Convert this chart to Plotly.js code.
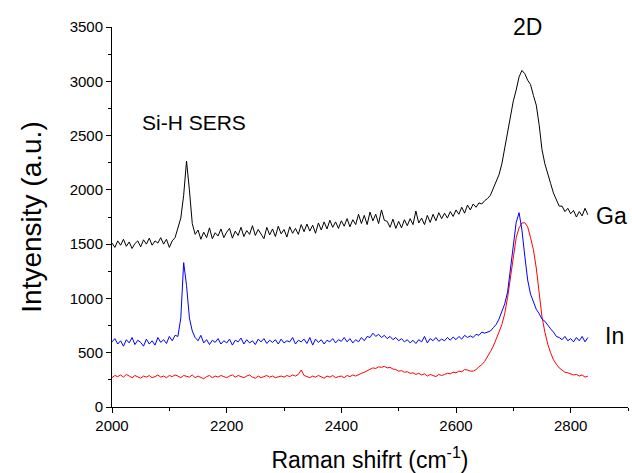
<!DOCTYPE html>
<html>
<head>
<meta charset="utf-8">
<script src="https://cdn.plot.ly/plotly-3.0.1.min.js"></script>
<style>html,body{margin:0;padding:0;background:#fff;}#chart{width:632px;height:473px;}</style>
</head>
<body>
<div id="chart"></div>
<script>
// Raman shift sampling: first point and step (cm^-1)
const X0 = 2000;
const DX = 5;

// Ga spectrum (black), 2000..2830 every 5 cm^-1
const gaIntensity = [
1510,1470,1530,1490,1545,1480,1520,1460,1505,1530,1475,1540,1500,1555,1490,1530,1510,1560,1500,1545,
1470,1530,1560,1650,1740,1950,2265,2000,1690,1590,
1630,1545,1610,1560,1650,1550,1605,1575,1640,1560,
1610,1645,1555,1620,1580,1655,1570,1625,1590,1670,
1580,1635,1595,1550,1655,1585,1640,1570,1665,1595,
1635,1565,1660,1600,1645,1590,1680,1615,1685,1620,
1675,1600,1695,1630,1705,1640,1720,1655,1705,1645,
1715,1665,1735,1660,1725,1680,1775,1690,1765,1680,
1795,1715,1775,1690,1815,1720,1710,1655,1730,1645,
1710,1650,1725,1670,1735,1680,1805,1695,1740,1680,
1765,1700,1775,1715,1790,1735,1785,1740,1800,1755,
1815,1775,1840,1785,1860,1815,
1870,1840,1880,1870,1900,1920,1950,2010,2070,2140,2240,2380,2530,2670,2820,2920,3040,3100,3070,3010,
2970,2870,2780,2600,2370,2240,2140,2060,1970,1910,1850,1850,1800,1830,1780,1810,1750,1800,1760,1830,
1770
];

// In spectrum (blue)
const inIntensity = [
600,630,580,610,560,620,590,640,575,615,595,560,625,580,610,570,640,595,620,585,
650,610,660,650,820,1330,1120,820,700,640,610,660,590,620,575,615,595,630,580,610,
590,625,570,615,600,635,580,620,590,610,575,625,600,630,585,615,595,620,580,625,
590,610,600,640,580,615,600,625,585,640,570,625,595,620,580,615,600,630,590,620,
605,640,600,630,590,620,600,640,610,650,640,680,650,670,640,660,630,650,620,640,
610,630,600,620,590,615,585,620,600,650,590,630,610,640,605,625,610,640,615,645,
620,650,625,660,640,655,640,670,660,690,680,690,700,730,760,810,880,950,1060,1280,
1510,1700,1790,1630,1390,1170,1040,970,900,860,810,790,750,720,690,650,640,620,650,610,
630,600,640,610,650,600,640
];

// Reference spectrum (red)
const refIntensity = [
270,290,280,295,275,300,285,270,290,280,265,285,275,290,270,280,295,275,285,270,
290,280,295,285,270,290,280,275,295,270,285,275,260,280,290,270,285,275,290,280,
270,285,295,275,290,280,270,285,295,275,265,285,270,280,290,275,285,270,280,285,
275,290,280,295,285,300,340,290,280,270,285,275,290,280,265,285,275,290,270,280,
285,270,290,280,295,285,300,310,320,335,345,360,355,370,365,375,360,365,350,345,
330,335,320,325,310,315,300,310,295,305,285,300,290,280,300,290,300,310,305,320,
315,330,325,345,340,330,330,345,370,390,420,460,510,560,620,690,760,860,1010,1210,
1400,1560,1650,1695,1697,1660,1560,1450,1280,1060,830,690,580,500,435,395,360,340,320,315,
305,295,300,285,295,275,285
];

// Annotation labels
const labelText = ["Si-H SERS", "2D", "Ga", "In"];
const labelX = [2143, 2724, 2872, 2877];
const labelY = [2616, 3500, 1759, 654];
const labelSize = [21, 23, 23, 23];

const traces = [
  {y: refIntensity, x0: X0, dx: DX, type: 'scatter', mode: 'lines', line: {color: '#ff0000', width: 1}, name: 'ref'},
  {y: inIntensity, x0: X0, dx: DX, type: 'scatter', mode: 'lines', line: {color: '#0000ff', width: 1}, name: 'In'},
  {y: gaIntensity, x0: X0, dx: DX, type: 'scatter', mode: 'lines', line: {color: '#000000', width: 1}, name: 'Ga'}
];

const annotations = labelText.map((t, i) => ({
  text: t, x: labelX[i], y: labelY[i], xref: 'x', yref: 'y', showarrow: false,
  font: {family: 'Liberation Sans, Arial, sans-serif', size: labelSize[i], color: '#000'},
  xanchor: 'center', yanchor: 'middle'
}));

const layout = {
  width: 632, height: 473,
  margin: {l: 112, r: 4, t: 27, b: 66},
  paper_bgcolor: '#fff', plot_bgcolor: '#fff',
  showlegend: false,
  font: {family: 'Liberation Sans, Arial, sans-serif', color: '#000'},
  xaxis: {
    range: [2000, 2900], dtick: 200, tick0: 2000,
    ticks: 'outside', ticklen: 5, tickwidth: 1, tickcolor: '#000',
    minor: {dtick: 100, ticks: 'outside', ticklen: 3, tickcolor: '#000'},
    showline: true, linecolor: '#000', linewidth: 1, showgrid: false, zeroline: false,
    tickfont: {size: 15}, automargin: false,
    title: {text: 'Raman shifrt (cm<sup>-1</sup>)', font: {size: 23}, standoff: 18}
  },
  yaxis: {
    range: [0, 3500], dtick: 500, tick0: 0,
    ticks: 'outside', ticklen: 5, tickwidth: 1, tickcolor: '#000',
    minor: {dtick: 250, ticks: 'outside', ticklen: 3, tickcolor: '#000'},
    showline: true, linecolor: '#000', linewidth: 1, showgrid: false, zeroline: false,
    tickfont: {size: 15}, automargin: false,
    title: {text: 'Intyensity (a.u.)', font: {size: 28}, standoff: 19}
  },
  annotations: annotations
};

Plotly.newPlot('chart', traces, layout, {staticPlot: true, displayModeBar: false});
</script>
</body>
</html>
